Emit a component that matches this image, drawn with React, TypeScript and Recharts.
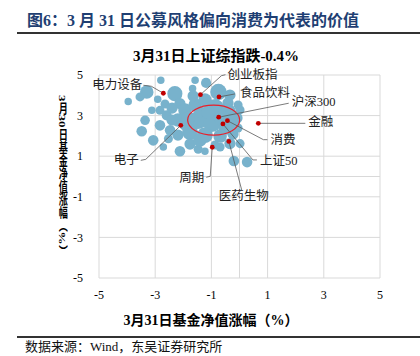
import React from "react";
import {
  ScatterChart,
  Scatter,
  XAxis,
  YAxis,
  ZAxis,
  CartesianGrid,
  ReferenceLine,
} from "recharts";

// fund returns on 3/30 (y) vs 3/31 (x), bubble = fund scale
const fundX = [
  -3.96, -2.8, -3.3, -3.54, -2.3, -2.91, -1.58, -1.67, -0.75, -1.19, -0.41, -2.12, -2.65, -3.12,
  -3.36, -2.83, -2.59, -2.83, -3.48, -3.07, -2.47, -2.53, -2.71, -2.12, -1.47, -1.23, -0.69, -0.34,
  0.02, -0.2, 0.27, -1.94, -1.58, -1.23, -0.87, -0.41, -0.09, -1.48, -0.98, -0.48, -0.05, -1.76,
  -1.23, -0.69, -0.23, -2.19, -2.19, -1.76, -0.87, -2.4, -1.65, -0.34, -0.05, -1.41, -1.94,
  -0.62, -1.12, -0.27, -1.41, -1.83, 0.02, -2.4,
];
const fundY = [
  3.7, 4.74, 4.16, 3.92, 4.08, 3.8, 4.74, 4.33, 4.16, 4.61, 3.62, 3.59, 3.57, 3.26,
  2.77, 3.26, 3.01, 2.52, 2.23, 1.78, 2.28, 1.86, 1.45, 1.24, 1.34, 1.24, 1.45, 1.62,
  1.62, 0.76, 0.71, 3.28, 3.52, 3.77, 3.37, 3.18, 2.88, 2.78, 2.64, 2.44, 2.39, 2.19,
  2.04, 1.99, 2.09, 2.78, 2.04, 1.6, 1.55, 3.37, 3.97, 4.01, 3.52, 3.18, 2.54,
  2.88, 3.18, 2.68, 1.8, 2.88, 3.28, 2.78,
];
const fundScale = [
  11, 11, 36, 16, 45, 11, 11, 11, 53, 20, 25, 25, 16, 11,
  18, 16, 20, 22, 22, 22, 22, 16, 11, 22, 16, 11, 16, 25,
  16, 22, 22, 36, 36, 36, 64, 49, 25, 64, 64, 49, 16, 49,
  49, 36, 25, 36, 25, 25, 16, 25, 25, 25, 16, 25, 25,
  49, 36, 36, 36, 36, 16, 25,
];

// indices / sectors (red dots)
const indexNames = ["电力设备", "创业板指", "食品饮料", "沪深300", "金融", "消费", "上证50", "电子", "周期", "医药生物"];
const indexX = [-2.71, -1.39, -0.73, -0.74, 0.67, -0.43, -0.59, -2.09, -0.97, -0.38];
const indexY = [4.1, 4.03, 3.92, 2.92, 2.62, 2.75, 2.59, 2.52, 1.44, 1.73];

// centre of the highlighted "value/consumption" ellipse
const focusX = [-0.92];
const focusY = [2.78];

const xTicks = [-5, -3, -1, 1, 3, 5];
const yTicks = [-5, -3, -1, 1, 3, 5];

const funds = fundX.map((x, i) => ({ x, y: fundY[i], z: fundScale[i] }));
const indices = indexNames.map((name, i) => ({ name, x: indexX[i], y: indexY[i] }));
const focus = focusX.map((x, i) => ({ x, y: focusY[i] }));

const SERIF = '"Liberation Serif", "Noto Sans CJK SC", serif';

// leader line + label placement, relative to the dot (px)
const leaders: Record<string, { path: number[][]; tx: number; ty: number; anchor: string }> = {
  电力设备: { path: [[0, 0], [-12, -7], [-20, -8]], tx: -21, ty: -8, anchor: "end" },
  创业板指: { path: [[0, 0], [21, -19], [25, -20]], tx: 27, ty: -20, anchor: "start" },
  食品饮料: { path: [[0, 0], [16, -3]], tx: 21, ty: -4, anchor: "start" },
  沪深300: { path: [[0, 0], [70, -14]], tx: 73, ty: -15, anchor: "start" },
  金融: { path: [[0, 0], [47, 0]], tx: 50, ty: -1, anchor: "start" },
  消费: { path: [[0, 0], [36, 19], [40, 19]], tx: 43, ty: 19, anchor: "start" },
  上证50: { path: [[0, 0], [30, 36], [34, 36]], tx: 37, ty: 37, anchor: "start" },
  电子: { path: [[0, 0], [-35, 34], [-40, 35]], tx: -42, ty: 35, anchor: "end" },
  周期: { path: [[0, 0], [-2, 29], [-6, 30]], tx: -8, ty: 31, anchor: "end" },
  医药生物: { path: [[0, 0], [13, 49]], tx: 15, ty: 55, anchor: "middle" },
};

const IndexDot = (props: any) => {
  const { cx, cy, payload } = props;
  const lay = leaders[payload.name];
  const pts = lay.path.map(([dx, dy]) => `${cx + dx},${cy + dy}`).join(" ");
  return (
    <g>
      <polyline points={pts} fill="none" stroke="#595959" strokeWidth={0.8} />
      <circle cx={cx} cy={cy} r={2.4} fill="#c00000" />
      <text
        x={cx + lay.tx}
        y={cy + lay.ty}
        textAnchor={lay.anchor as any}
        dominantBaseline="central"
        fontSize={12.5}
        fontFamily={SERIF}
        fill="#222"
      >
        {payload.name}
      </text>
    </g>
  );
};

const FocusEllipse = (props: any) => (
  <ellipse cx={props.cx} cy={props.cy} rx={26} ry={15} fill="none" stroke="#e8202a" strokeWidth={1.2} />
);

export default function App() {
  return (
    <div
      style={{
        position: "absolute",
        left: 0,
        top: 0,
        width: 420,
        height: 356,
        background: "#fff",
        overflow: "hidden",
        fontFamily: SERIF,
      }}
    >
      <div style={{ position: "absolute", left: 27, top: 7, fontSize: 16, fontWeight: "bold", color: "#1f3f73", whiteSpace: "nowrap" }}>
        图6：3 月 31 日公募风格偏向消费为代表的价值
      </div>
      <div style={{ position: "absolute", left: 17, top: 32, width: 403, height: 2, background: "#333" }} />

      <ScatterChart width={420} height={356} margin={{ top: 75, right: 40, bottom: 48, left: 60 }}>
        <CartesianGrid stroke="#d9d9d9" />
        <XAxis
          type="number"
          dataKey="x"
          domain={[-5, 5]}
          ticks={xTicks}
          axisLine={false}
          tickLine={false}
          tickSize={0}
          tickMargin={12}
          height={30}
          tick={{ fill: "#000", fontSize: 12, fontFamily: SERIF }}
        />
        <YAxis
          type="number"
          dataKey="y"
          domain={[-5, 5]}
          ticks={yTicks}
          axisLine={false}
          tickLine={false}
          tickSize={0}
          tickMargin={16}
          width={39}
          tick={{ fill: "#000", fontSize: 12, fontFamily: SERIF }}
        />
        <ZAxis type="number" dataKey="z" domain={[0, 100]} range={[0, 400]} />
        <ReferenceLine x={0} stroke="#d9d9d9" />
        <ReferenceLine y={0} stroke="#d9d9d9" />
        <Scatter data={funds} fill="#78b2cc" isAnimationActive={false} />
        <Scatter data={focus} shape={FocusEllipse} isAnimationActive={false} />
        <Scatter data={indices} shape={IndexDot} isAnimationActive={false} />
      </ScatterChart>

      <div style={{ position: "absolute", left: 116, top: 44, width: 200, textAlign: "center", fontSize: 15, fontWeight: "bold", whiteSpace: "nowrap", color: "#000" }}>
        3月31日上证综指跌-0.4%
      </div>
      <div
        style={{
          position: "absolute",
          left: 56,
          top: 95,
          writingMode: "vertical-rl",
          fontSize: 13,
          lineHeight: "13px",
          fontWeight: "bold",
          transform: "scaleX(0.7)",
          whiteSpace: "nowrap",
          color: "#000",
        }}
      >
        3月30日基金净值涨幅（%）
      </div>
      <div style={{ position: "absolute", left: 61, top: 309, width: 300, textAlign: "center", fontSize: 14, fontWeight: "bold", whiteSpace: "nowrap", color: "#000" }}>
        3月31日基金净值涨幅（%）
      </div>
      <div style={{ position: "absolute", left: 17, top: 336, width: 403, height: 2, background: "#333" }} />
      <div style={{ position: "absolute", left: 25, top: 339, fontSize: 13, lineHeight: "15px", whiteSpace: "nowrap", color: "#111" }}>
        数据来源：Wind，东吴证券研究所
      </div>
    </div>
  );
}
